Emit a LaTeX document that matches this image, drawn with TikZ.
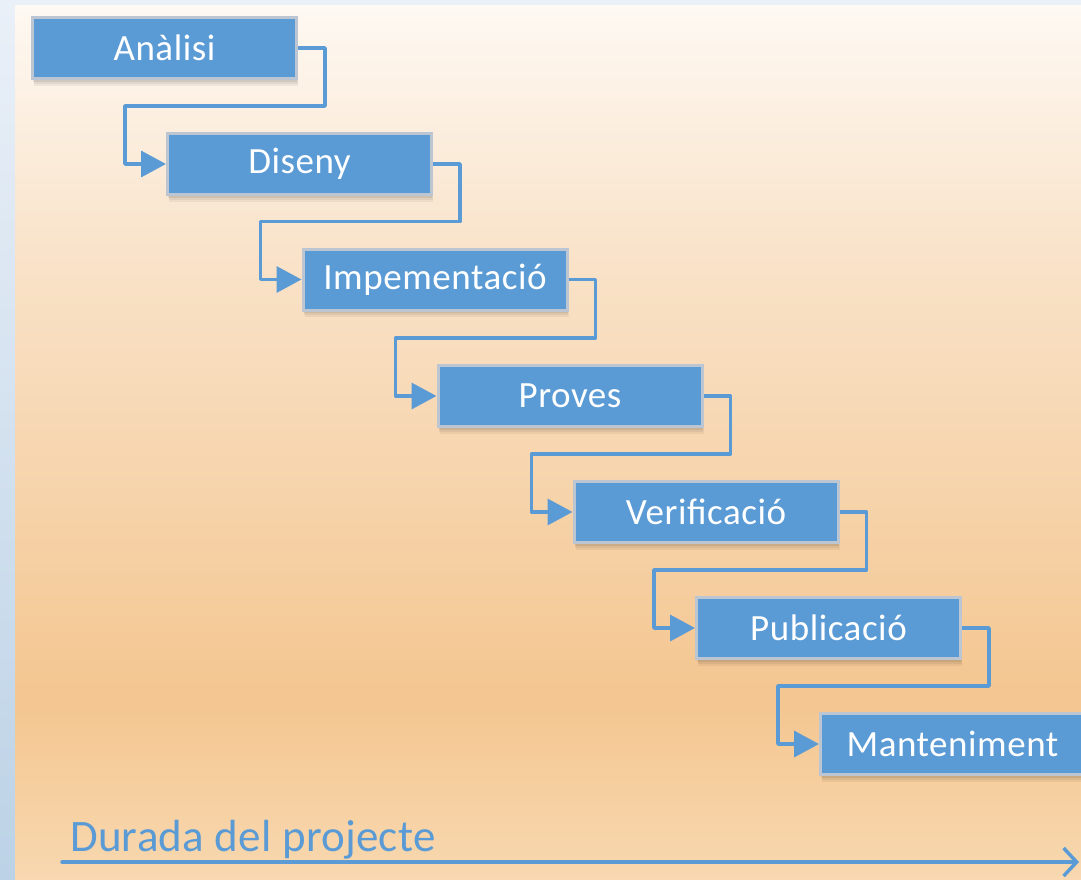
\documentclass[tikz,border=0pt]{standalone}
\usepackage{fontspec}
\setmainfont{Carlito}
\newfontfamily\boxfont[LetterSpace=1.5]{Carlito}
\newfontfamily\axisfont[LetterSpace=0.6]{Carlito}
\usetikzlibrary{arrows.meta,calc}
\definecolor{accent}{RGB}{91,155,213}
\definecolor{boxedge}{RGB}{188,198,210}
\definecolor{bgA}{RGB}{254,249,243}
\definecolor{bgB}{RGB}{249,227,202}
\definecolor{bgC}{RGB}{244,198,144}
\definecolor{bgD}{RGB}{248,216,176}
\definecolor{sideA}{RGB}{234,240,248}
\definecolor{sideB}{RGB}{188,210,230}
\tikzset{
  softshadow/.style={preaction={fill=black, draw=none, fill opacity=#1}},
  stagebox/.style={draw=boxedge, line width=3pt, fill=accent, text=white,
    minimum width=264pt, minimum height=61pt, inner sep=0pt,
    font=\boxfont\fontsize{37}{40}\selectfont,
    preaction={fill=black, draw=none, fill opacity=0.05, transform canvas={xshift=1.5pt,yshift=-7pt}},
    preaction={fill=black, draw=none, fill opacity=0.06, transform canvas={xshift=1pt,yshift=-5pt}},
    preaction={fill=black, draw=none, fill opacity=0.07, transform canvas={xshift=0.5pt,yshift=-3pt}}},
  conn/.style={draw=accent, line width=3.5pt, line join=round,
    -{Triangle[length=25pt,width=26pt]}},
  axisline/.style={draw=accent, line width=3.5pt, line cap=round,
    -{Straight Barb[length=13pt,width=28pt,line width=3.5pt]}},
}
\begin{document}
\begin{tikzpicture}[x=1pt,y=-1pt]
\useasboundingbox (0,0) rectangle (1081,879);
% background
\shade[top color=sideA, bottom color=sideB] (0,0) rectangle (1081,879);
\shade[top color=bgA, bottom color=bgB] (15,5) rectangle (1081,250.5);
\shade[top color=bgB, bottom color=bgC] (15,250) rectangle (1081,700.5);
\shade[top color=bgC, bottom color=bgD] (15,700) rectangle (1081,879);
% stages
\node[stagebox] (b1) at (164.5,48) {Anàlisi};
\node[stagebox] (b2) at (299.5,164) {Diseny};
\node[stagebox] (b3) at (435,279.5) {Impementació};
\node[stagebox] (b4) at (570,396) {Proves};
\node[stagebox] (b5) at (706,512) {Verificació};
\node[stagebox] (b6) at (828.5,628) {Publicació};
\node[stagebox] (b7) at (952.5,744) {Manteniment};
% connectors
\foreach \a/\b in {b1/b2,b2/b3,b3/b4,b4/b5,b5/b6,b6/b7}{
  \draw[conn] (\a.east) -- ++(27,0) |- ($(\b.north west)+(-41,-26)$) |- (\b.west);
}
% time axis
\node[anchor=base west, inner sep=0pt, text=accent, font=\axisfont\fontsize{45}{50}\selectfont] (lbl) at (70,851) {Durada del projecte};
\coordinate (ts) at (62,862);
\coordinate (te) at (1079,862);
\draw[axisline] (ts) -- (te);
\end{tikzpicture}
\end{document}
